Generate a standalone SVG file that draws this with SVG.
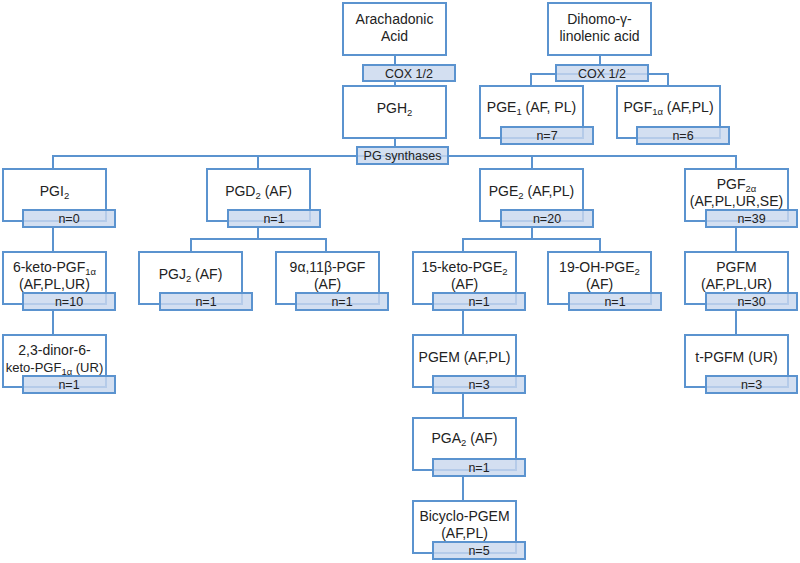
<svg xmlns="http://www.w3.org/2000/svg" width="800" height="563" viewBox="0 0 800 563">
<style>
.box{fill:#fff;stroke:#5b93cf;stroke-width:2}
.lab{fill:#c9d8ee;fill-opacity:0.82;stroke:#5b93cf;stroke-width:2}
.con{fill:none;stroke:#5b93cf;stroke-width:2}
text{font-family:"Liberation Sans",Arial,sans-serif;font-size:14px;fill:#222;text-anchor:middle}
.lt{font-size:12.5px}
.s{font-size:9.5px}
.n{font-size:13px}
</style>
<rect width="800" height="563" fill="#fff"/>
<g id="connectors">
<path class="con" d="M395 55V65M395 81V86M395 138V147"/>
<path class="con" d="M53 169V156H736V169M258 156V169M532 156V169"/>
<path class="con" d="M600 55V65M531 86V74H668V86"/>
<path class="con" d="M53 227V252M53 311V335"/>
<path class="con" d="M258 227V239M191 252V239H326V252"/>
<path class="con" d="M532 227V239M463 252V239H600V252"/>
<path class="con" d="M463 311V335M463 394V418M463 477V501"/>
<path class="con" d="M736 227V252M736 311V335"/>
</g>
<g id="aa"><rect class="box" x="343" y="3" width="103" height="52"/><text x="394.5" y="24">Arachadonic</text><text x="394.5" y="41">Acid</text></g>
<g id="cox-aa"><rect class="lab" x="363" y="65" width="92" height="16"/><text class="lt" x="409" y="77.5">COX 1/2</text></g>
<g id="pgh2"><rect class="box" x="343" y="86" width="103" height="52"/><text x="394.5" y="113">PGH<tspan class="s" dy="3">2</tspan></text></g>
<g id="pgsyn"><rect class="lab" x="357" y="147" width="91" height="17"/><text class="lt" x="402.5" y="160">PG synthases</text></g>
<g id="dgla"><rect class="box" x="548" y="3" width="103" height="52"/><text x="599.5" y="24">Dihomo-γ-</text><text x="599.5" y="41">linolenic acid</text></g>
<g id="cox-dgla"><rect class="lab" x="556" y="65" width="92" height="16"/><text class="lt" x="602" y="77.5">COX 1/2</text></g>
<g id="pge1"><rect class="box" x="480" y="86" width="103" height="52"/><text x="531.5" y="112">PGE<tspan class="s" dy="3">1</tspan><tspan dy="-3"> (AF, PL)</tspan></text><rect class="lab" x="501" y="127" width="92" height="17"/><text class="lt" x="547" y="140">n=7</text></g>
<g id="pgf1a"><rect class="box" x="617" y="86" width="103" height="52"/><text x="668.5" y="112">PGF<tspan class="s" dy="3">1α</tspan><tspan dy="-3"> (AF,PL)</tspan></text><rect class="lab" x="637" y="127" width="92" height="17"/><text class="lt" x="683" y="140">n=6</text></g>
<g id="pgi2"><rect class="box" x="3" y="169" width="103" height="52"/><text x="54.5" y="196">PGI<tspan class="s" dy="3">2</tspan></text><rect class="lab" x="23" y="210" width="92" height="17"/><text class="lt" x="69" y="223">n=0</text></g>
<g id="pgd2"><rect class="box" x="207" y="169" width="103" height="52"/><text x="258.5" y="196">PGD<tspan class="s" dy="3">2</tspan><tspan dy="-3"> (AF)</tspan></text><rect class="lab" x="228" y="210" width="92" height="17"/><text class="lt" x="274" y="223">n=1</text></g>
<g id="pge2"><rect class="box" x="480" y="169" width="103" height="52"/><text x="531.5" y="196">PGE<tspan class="s" dy="3">2</tspan><tspan dy="-3"> (AF,PL)</tspan></text><rect class="lab" x="501" y="210" width="92" height="17"/><text class="lt" x="547" y="223">n=20</text></g>
<g id="pgf2a"><rect class="box" x="685" y="169" width="103" height="52"/><text x="736.5" y="189">PGF<tspan class="s" dy="3">2α</tspan></text><text x="736.5" y="206">(AF,PL,UR,SE)</text><rect class="lab" x="706" y="210" width="91" height="17"/><text class="lt" x="751.5" y="223">n=39</text></g>
<g id="keto-pgf1a"><rect class="box" x="3" y="252" width="103" height="52"/><text x="54.5" y="272">6-keto-PGF<tspan class="s" dy="3">1α</tspan></text><text x="54.5" y="289">(AF,PL,UR)</text><rect class="lab" x="23" y="293" width="92" height="17"/><text class="lt" x="69" y="306">n=10</text></g>
<g id="pgj2"><rect class="box" x="139" y="252" width="103" height="52"/><text x="190.5" y="279">PGJ<tspan class="s" dy="3">2</tspan><tspan dy="-3"> (AF)</tspan></text><rect class="lab" x="160" y="293" width="92" height="17"/><text class="lt" x="206" y="306">n=1</text></g>
<g id="pgf-9a11b"><rect class="box" x="276" y="252" width="103" height="52"/><text x="327.5" y="272">9α,11β-PGF</text><text x="327.5" y="289">(AF)</text><rect class="lab" x="296" y="293" width="92" height="17"/><text class="lt" x="342" y="306">n=1</text></g>
<g id="keto-pge2"><rect class="box" x="413" y="252" width="103" height="52"/><text x="464.5" y="272">15-keto-PGE<tspan class="s" dy="3">2</tspan></text><text x="464.5" y="289">(AF)</text><rect class="lab" x="433" y="293" width="92" height="17"/><text class="lt" x="479" y="306">n=1</text></g>
<g id="oh-pge2"><rect class="box" x="548" y="252" width="103" height="52"/><text x="599.5" y="272">19-OH-PGE<tspan class="s" dy="3">2</tspan></text><text x="599.5" y="289">(AF)</text><rect class="lab" x="569" y="293" width="92" height="17"/><text class="lt" x="615" y="306">n=1</text></g>
<g id="pgfm"><rect class="box" x="685" y="252" width="103" height="52"/><text x="736.5" y="272">PGFM</text><text x="736.5" y="289">(AF,PL,UR)</text><rect class="lab" x="706" y="293" width="91" height="17"/><text class="lt" x="751.5" y="306">n=30</text></g>
<g id="dinor"><rect class="box" x="3" y="335" width="103" height="52"/><text x="54.5" y="355">2,3-dinor-6-</text><text class="n" x="54.5" y="372">keto-PGF<tspan class="s" dy="3">1α</tspan><tspan dy="-3"> (UR)</tspan></text><rect class="lab" x="23" y="376" width="92" height="17"/><text class="lt" x="69" y="389">n=1</text></g>
<g id="pgem"><rect class="box" x="413" y="335" width="103" height="52"/><text x="464.5" y="362">PGEM (AF,PL)</text><rect class="lab" x="433" y="376" width="92" height="17"/><text class="lt" x="479" y="389">n=3</text></g>
<g id="tpgfm"><rect class="box" x="685" y="335" width="103" height="52"/><text x="736.5" y="362">t-PGFM (UR)</text><rect class="lab" x="706" y="376" width="91" height="17"/><text class="lt" x="751.5" y="389">n=3</text></g>
<g id="pga2"><rect class="box" x="413" y="418" width="103" height="52"/><text x="464.5" y="443">PGA<tspan class="s" dy="3">2</tspan><tspan dy="-3"> (AF)</tspan></text><rect class="lab" x="433" y="459" width="92" height="17"/><text class="lt" x="479" y="472">n=1</text></g>
<g id="bicyclo"><rect class="box" x="413" y="501" width="103" height="52"/><text x="464.5" y="521">Bicyclo-PGEM</text><text x="464.5" y="538">(AF,PL)</text><rect class="lab" x="433" y="542" width="92" height="17"/><text class="lt" x="479" y="555">n=5</text></g>
</svg>
